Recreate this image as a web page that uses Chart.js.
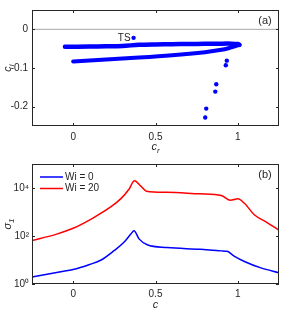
<!DOCTYPE html>
<html>
<head>
<meta charset="utf-8">
<script src="https://cdn.jsdelivr.net/npm/chart.js@4.4.1/dist/chart.umd.min.js"></script>
<style>
    body { margin: 0; background: #fff; }
    canvas { display: block; }
</style>
</head>
<body>
<canvas id="graficoA" width="283" height="155"></canvas>
<canvas id="graficoB" width="283" height="155"></canvas>
<script>
// ------------------------------ Datos panel (a) ------------------------------
const ramaInfCr = [0.00, 0.20, 0.40, 0.60, 0.80, 0.90, 0.95, 0.99, 1.01];
const ramaInfCi = [-0.083, -0.078, -0.073, -0.067, -0.059, -0.053, -0.048, -0.043, -0.040];
const ramaSupCr = [-0.05, 0.10, 0.20, 0.30, 0.40, 0.50, 0.60, 0.70, 0.80, 0.90, 0.96, 1.00, 1.01];
const ramaSupCi = [-0.045, -0.0445, -0.044, -0.043, -0.040, -0.039, -0.0385, -0.038, -0.0375, -0.037, -0.037, -0.038, -0.040];
const sueltosCr = [0.933, 0.927, 0.869, 0.863, 0.808, 0.802];
const sueltosCi = [-0.081, -0.093, -0.142, -0.161, -0.205, -0.228];
const tsCr = [0.367];
const tsCi = [-0.022];
const ticksCr = [0, 0.5, 1];
const ticksCi = [-0.2, -0.1, 0];

// ------------------------------ Datos panel (b) ------------------------------
const cWi0 = [-0.25, -0.15, -0.05, 0, 0.10, 0.17, 0.25, 0.31, 0.35, 0.37, 0.40, 0.45, 0.57, 0.77, 0.90, 0.935, 0.975, 1.04, 1.14, 1.25];
const sigmaWi0 = [1.95, 2.6, 3.5, 4.0, 6.5, 10, 25, 56, 120, 165, 76, 43, 33, 28, 24, 23, 15, 8.7, 4.7, 2.95];
const cWi20 = [-0.25, -0.10, 0, 0.12, 0.23, 0.29, 0.34, 0.372, 0.41, 0.445, 0.57, 0.77, 0.90, 0.955, 1.00, 1.04, 1.10, 1.18, 1.25];
const sigmaWi20 = [65, 120, 210, 560, 1660, 3600, 9100, 20000, 12300, 7400, 6700, 5700, 4900, 3100, 3600, 2300, 770, 355, 174];
const etiquetasSerie = ["Wi = 0", "Wi = 20"];
const ticksC = [0, 0.5, 1];
const ticksSigma = [1, 100, 10000];

const fuente = "'Liberation Sans', Arial, sans-serif";
const colorTexto = "#262626";
const azul = "#0000ff";
const rojo = "#ff0000";

const puntos = (xs, ys) => xs.map((x, i) => ({ x: x, y: ys[i] }));

// Titulo de eje con subindice (c_r, c_i, sigma_1)
function titulo(ctx, x, y, base, sub, rotado) {
    ctx.save();
    ctx.translate(x, y);
    if (rotado) ctx.rotate(-Math.PI / 2);
    ctx.fillStyle = colorTexto;
    ctx.textBaseline = "middle";
    ctx.font = "italic 11px " + fuente;
    const wb = ctx.measureText(base).width;
    ctx.font = "italic 8px " + fuente;
    const ws = sub ? ctx.measureText(sub).width : 0;
    const x0 = -(wb + ws) / 2;
    ctx.font = "italic 11px " + fuente;
    ctx.textAlign = "left";
    ctx.fillText(base, x0, 0);
    if (sub) {
        ctx.font = "italic 8px " + fuente;
        ctx.fillText(sub, x0 + wb, 4);
    }
    ctx.restore();
}

// Marco con ticks hacia adentro + textos extra
const marco = {
    id: "marco",
    afterDatasetsDraw(chart, args, opts) {
        const { ctx, chartArea: a, scales } = chart;
        ctx.save();
        ctx.strokeStyle = colorTexto;
        ctx.lineWidth = 1;
        ctx.beginPath();
        scales.x.ticks.forEach(t => {
            const px = Math.round(scales.x.getPixelForValue(t.value)) + 0.5;
            ctx.moveTo(px, a.bottom); ctx.lineTo(px, a.bottom - 3);
            ctx.moveTo(px, a.top); ctx.lineTo(px, a.top + 3);
        });
        scales.y.ticks.forEach(t => {
            const py = Math.round(scales.y.getPixelForValue(t.value)) + 0.5;
            ctx.moveTo(a.left, py); ctx.lineTo(a.left + 3, py);
            ctx.moveTo(a.right, py); ctx.lineTo(a.right - 3, py);
        });
        ctx.stroke();
        ctx.strokeRect(a.left + 0.5, a.top + 0.5, a.width - 1, a.height - 1);

        ctx.fillStyle = colorTexto;
        ctx.font = "11px " + fuente;
        ctx.textAlign = "center";
        ctx.textBaseline = "middle";
        ctx.fillText(opts.panel, a.right - 14, a.top + 11);

        titulo(ctx, (a.left + a.right) / 2, opts.xTituloY, opts.xBase, opts.xSub, false);
        titulo(ctx, 8, (a.top + a.bottom) / 2, opts.yBase, opts.ySub, true);

        if (opts.leyenda) {
            chart.data.datasets.forEach((ds, i) => {
                const y = a.top + 13 + i * 11.5;
                ctx.strokeStyle = ds.borderColor;
                ctx.lineWidth = 1.5;
                ctx.beginPath();
                ctx.moveTo(a.left + 8, y);
                ctx.lineTo(a.left + 31, y);
                ctx.stroke();
                ctx.fillStyle = colorTexto;
                ctx.font = "10px " + fuente;
                ctx.textAlign = "left";
                ctx.fillText(ds.label, a.left + 33, y);
            });
        }
        if (opts.ts) {
            const px = scales.x.getPixelForValue(tsCr[0]);
            const py = scales.y.getPixelForValue(tsCi[0]);
            ctx.fillStyle = colorTexto;
            ctx.font = "10px " + fuente;
            ctx.textAlign = "right";
            ctx.fillText("TS", px - 3, py);
        }
        ctx.restore();
    }
};

const ejeComun = (ticksLista, fmt, ancho, alto, padding) => ({
    grid: { display: false, drawTicks: false },
    border: { display: false },
    afterBuildTicks: s => { s.ticks = ticksLista.map(v => ({ value: v })); },
    afterFit: s => { if (ancho) s.width = ancho; if (alto) s.height = alto; },
    ticks: {
        color: colorTexto,
        font: { family: fuente, size: 10 },
        padding: padding,
        maxRotation: 0,
        autoSkip: false,
        callback: fmt
    }
});

// ------------------------------ Panel (a) ------------------------------
new Chart(document.getElementById("graficoA"), {
    type: "scatter",
    data: {
        datasets: [
            {
                data: puntos([-0.25, 1.25], [0, 0]),
                showLine: true, borderColor: "#a6a6a6", borderWidth: 1, pointRadius: 0
            },
            {
                data: puntos(ramaSupCr, ramaSupCi),
                showLine: true, borderColor: azul, borderWidth: 4.5, pointRadius: 0,
                tension: 0.3, borderCapStyle: "round"
            },
            {
                data: puntos(ramaInfCr, ramaInfCi),
                showLine: true, borderColor: azul, borderWidth: 4, pointRadius: 0,
                tension: 0.3, borderCapStyle: "round"
            },
            {
                data: puntos(sueltosCr, sueltosCi),
                backgroundColor: azul, borderWidth: 0, pointRadius: 2.2
            },
            {
                data: puntos(tsCr, tsCi),
                backgroundColor: azul, borderWidth: 0, pointRadius: 2.2
            }
        ]
    },
    options: {
        responsive: false,
        animation: false,
        devicePixelRatio: 1,
        layout: { padding: { top: 2, right: 4, left: 0, bottom: 0 } },
        plugins: {
            legend: { display: false },
            tooltip: { enabled: false },
            marco: { panel: "(a)", xBase: "c", xSub: "r", yBase: "c", ySub: "i", xTituloY: 147, ts: true }
        },
        scales: {
            x: Object.assign({ type: "linear", min: -0.25, max: 1.25 },
                ejeComun(ticksCr, v => String(v), 0, 29, 5)),
            y: Object.assign({ type: "linear", min: -0.25, max: 0.05 },
                ejeComun(ticksCi, v => String(v), 32, 0, 4))
        }
    },
    plugins: [marco]
});

// ------------------------------ Panel (b) ------------------------------
const sup = { 0: "⁰", 2: "²", 4: "⁴" };

new Chart(document.getElementById("graficoB"), {
    type: "scatter",
    data: {
        datasets: [
            {
                label: etiquetasSerie[0],
                data: puntos(cWi0, sigmaWi0),
                showLine: true, borderColor: azul, borderWidth: 1.5, pointRadius: 0,
                cubicInterpolationMode: "monotone"
            },
            {
                label: etiquetasSerie[1],
                data: puntos(cWi20, sigmaWi20),
                showLine: true, borderColor: rojo, borderWidth: 1.5, pointRadius: 0,
                cubicInterpolationMode: "monotone"
            }
        ]
    },
    options: {
        responsive: false,
        animation: false,
        devicePixelRatio: 1,
        layout: { padding: { top: 5, right: 4, left: 0, bottom: 0 } },
        plugins: {
            legend: { display: false },
            tooltip: { enabled: false },
            marco: { panel: "(b)", xBase: "c", xSub: "", yBase: "σ", ySub: "1", xTituloY: 150, leyenda: true }
        },
        scales: {
            x: Object.assign({ type: "linear", min: -0.25, max: 1.25 },
                ejeComun(ticksC, v => String(v), 0, 26, 4)),
            y: Object.assign({ type: "logarithmic", min: 1, max: 100000 },
                ejeComun(ticksSigma, v => "10" + sup[Math.round(Math.log10(v))], 32, 0, 3))
        }
    },
    plugins: [marco]
});
</script>
</body>
</html>
